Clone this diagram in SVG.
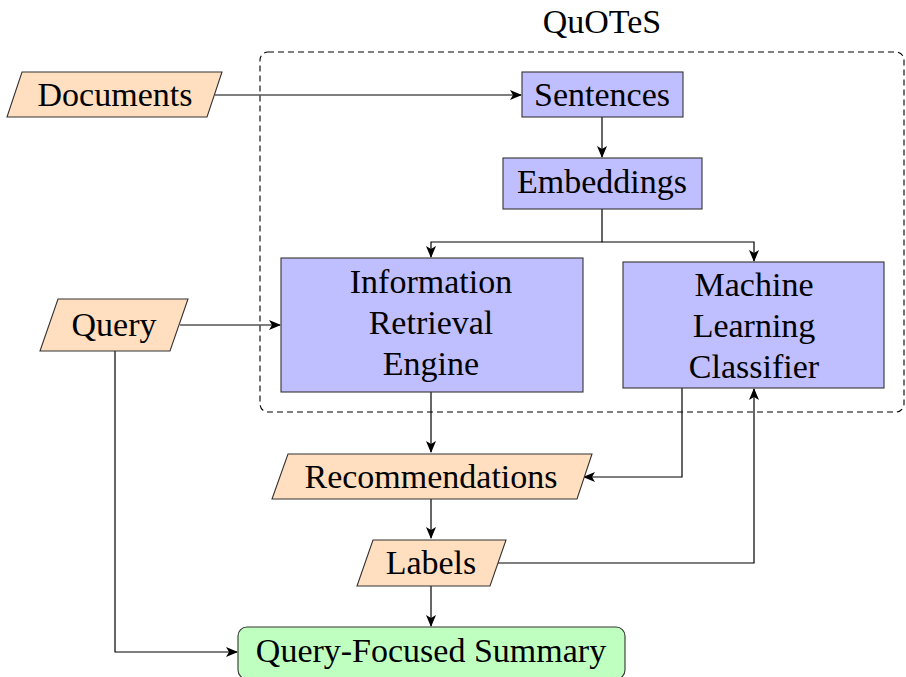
<svg xmlns="http://www.w3.org/2000/svg" width="906" height="677" viewBox="0 0 906 677">
<defs>
<style>
text{font-family:"Liberation Serif","DejaVu Serif",serif;font-size:34px;fill:#000;text-anchor:middle}
.io{fill:#ffdfbf;stroke:#333;stroke-width:1.1}
.proc{fill:#bfbfff;stroke:#333;stroke-width:1.1}
.out{fill:#bfffbf;stroke:#333;stroke-width:1.1}
.c{fill:none;stroke:#000;stroke-width:1.2}
</style>
<marker id="ah" viewBox="0 0 12 10" refX="11" refY="5" markerWidth="12" markerHeight="10" markerUnits="userSpaceOnUse" orient="auto">
<path d="M0,0 L12,5 L0,10 L3,5 Z" fill="#000"/>
</marker>
</defs>
<g id="quotes">
<rect x="260" y="52" width="644" height="360" rx="8" ry="8" fill="none" stroke="#000" stroke-width="1.1" stroke-dasharray="6,4"/>
<text x="602" y="33">QuOTeS</text>
</g>
<g id="connectors">
<path class="c" d="M215,95 H521" marker-end="url(#ah)"/>
<path class="c" d="M602,117 V157" marker-end="url(#ah)"/>
<path class="c" d="M602,209 V242 H431 V257" marker-end="url(#ah)"/>
<path class="c" d="M602,242 H754 V261" marker-end="url(#ah)"/>
<path class="c" d="M180,325 H280" marker-end="url(#ah)"/>
<path class="c" d="M431,392 V452" marker-end="url(#ah)"/>
<path class="c" d="M682,388 V477 H584" marker-end="url(#ah)"/>
<path class="c" d="M431,499 V538" marker-end="url(#ah)"/>
<path class="c" d="M498,563 H754 V389" marker-end="url(#ah)"/>
<path class="c" d="M431,586 V626" marker-end="url(#ah)"/>
<path class="c" d="M115,351 V652 H237" marker-end="url(#ah)"/>
</g>
<g id="documents">
<polygon class="io" points="22,72 222,72 207,117 7,117"/>
<text x="115" y="106">Documents</text>
</g>
<g id="sentences">
<rect class="proc" x="522" y="72" width="161" height="45"/>
<text x="602" y="106">Sentences</text>
</g>
<g id="embeddings">
<rect class="proc" x="503" y="158" width="199" height="51"/>
<text x="602" y="193">Embeddings</text>
</g>
<g id="ire">
<rect class="proc" x="281" y="258" width="302" height="134"/>
<text x="431" y="293">Information</text>
<text x="431" y="334">Retrieval</text>
<text x="431" y="375">Engine</text>
</g>
<g id="mlc">
<rect class="proc" x="623" y="262" width="261" height="126"/>
<text x="754" y="296">Machine</text>
<text x="754" y="337">Learning</text>
<text x="754" y="378">Classifier</text>
</g>
<g id="query">
<polygon class="io" points="58,299 188,299 170,351 40,351"/>
<text x="114" y="336">Query</text>
</g>
<g id="recommendations">
<polygon class="io" points="288,454 592,454 577,499 272,499"/>
<text x="431" y="488">Recommendations</text>
</g>
<g id="labels">
<polygon class="io" points="373,540 506,540 490,586 357,586"/>
<text x="431" y="574">Labels</text>
</g>
<g id="summary">
<rect class="out" x="238" y="627" width="387" height="52" rx="9" ry="9"/>
<text x="431" y="662">Query-Focused Summary</text>
</g>
</svg>
